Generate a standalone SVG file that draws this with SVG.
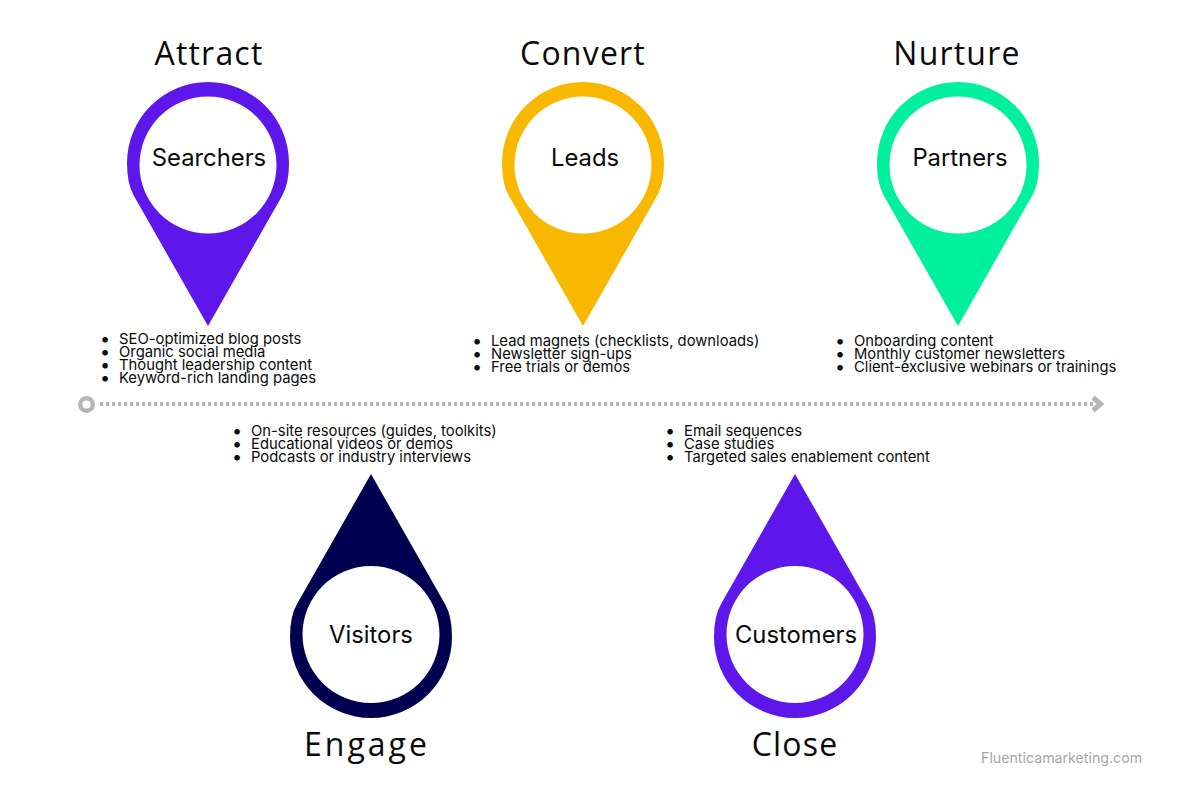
<svg xmlns="http://www.w3.org/2000/svg" width="1200" height="800" viewBox="0 0 1200 800">
<style>
text{font-family:"Inter","Liberation Sans",sans-serif;fill:#0a0a0a}
.h{font-size:32px;text-anchor:middle;font-family:"Open Sans","Liberation Sans",sans-serif;letter-spacing:1.2px}
.n{font-size:23.8px;text-anchor:middle}
.b{font-size:14.8px}
.d{font-size:18px}
.w{font-size:14.2px;fill:#a6a6a6}
.c{fill:#fff}
</style>
<defs>
<path id="pin" d="M0 0L-74-130Q-81-142-81-163A81 81 0 1 1 81-163Q81-142 74-130Z"/>
</defs>
<rect width="1200" height="800" fill="#fff"/>
<g id="connectors">
<circle cx="86.5" cy="404.5" r="6.3" fill="none" stroke="#b5b5b5" stroke-width="4.4"/>
<path d="M100 404H1096" fill="none" stroke="#b5b5b5" stroke-width="4" stroke-dasharray="3.2 2.8"/>
<path d="M1093 397.5L1100.5 404L1093 410.5" fill="none" stroke="#b5b5b5" stroke-width="5"/>
</g>
<g id="attract">
<text class="h" x="209" y="65">Attract</text>
<use href="#pin" transform="translate(208,326)" fill="#5e17eb"/>
<circle class="c" cx="208" cy="165" r="68.5"/>
<text class="n" x="209" y="166">Searchers</text>
<text class="d" x="100" y="345">•</text><text class="b" x="119" y="344">SEO-optimized blog posts</text>
<text class="d" x="100" y="358">•</text><text class="b" x="119" y="357">Organic social media</text>
<text class="d" x="100" y="371">•</text><text class="b" x="119" y="370">Thought leadership content</text>
<text class="d" x="100" y="384">•</text><text class="b" x="119" y="383">Keyword-rich landing pages</text>
</g>
<g id="convert">
<text class="h" x="583" y="65">Convert</text>
<use href="#pin" transform="translate(583,326)" fill="#f9b800"/>
<circle class="c" cx="583" cy="165" r="68.5"/>
<text class="n" x="585" y="166">Leads</text>
<text class="d" x="472" y="347">•</text><text class="b" x="491" y="346">Lead magnets (checklists, downloads)</text>
<text class="d" x="472" y="360">•</text><text class="b" x="491" y="359">Newsletter sign-ups</text>
<text class="d" x="472" y="373">•</text><text class="b" x="491" y="372">Free trials or demos</text>
</g>
<g id="nurture">
<text class="h" x="957" y="65">Nurture</text>
<use href="#pin" transform="translate(958,326)" fill="#00f09e"/>
<circle class="c" cx="958" cy="165" r="68.5"/>
<text class="n" x="960" y="166">Partners</text>
<text class="d" x="835" y="347">•</text><text class="b" x="854" y="346">Onboarding content</text>
<text class="d" x="835" y="360">•</text><text class="b" x="854" y="359">Monthly customer newsletters</text>
<text class="d" x="835" y="373">•</text><text class="b" x="854" y="372">Client-exclusive webinars or trainings</text>
</g>
<g id="engage">
<text class="h" x="367" y="756" style="letter-spacing:3px">Engage</text>
<use href="#pin" transform="translate(371,474) scale(1,-1)" fill="#000050"/>
<circle class="c" cx="371" cy="634.5" r="68.5"/>
<text class="n" x="371" y="643">Visitors</text>
<text class="d" x="232" y="437">•</text><text class="b" x="251" y="436">On-site resources (guides, toolkits)</text>
<text class="d" x="232" y="450">•</text><text class="b" x="251" y="449">Educational videos or demos</text>
<text class="d" x="232" y="463">•</text><text class="b" x="251" y="462">Podcasts or industry interviews</text>
</g>
<g id="close">
<text class="h" x="795" y="756">Close</text>
<use href="#pin" transform="translate(795,474) scale(1,-1)" fill="#5e17eb"/>
<circle class="c" cx="795" cy="634.5" r="68.5"/>
<text class="n" x="796" y="643">Customers</text>
<text class="d" x="665" y="437">•</text><text class="b" x="684" y="436">Email sequences</text>
<text class="d" x="665" y="450">•</text><text class="b" x="684" y="449">Case studies</text>
<text class="d" x="665" y="463">•</text><text class="b" x="684" y="462">Targeted sales enablement content</text>
</g>
<text class="w" x="981" y="763">Fluenticamarketing.com</text>
</svg>
